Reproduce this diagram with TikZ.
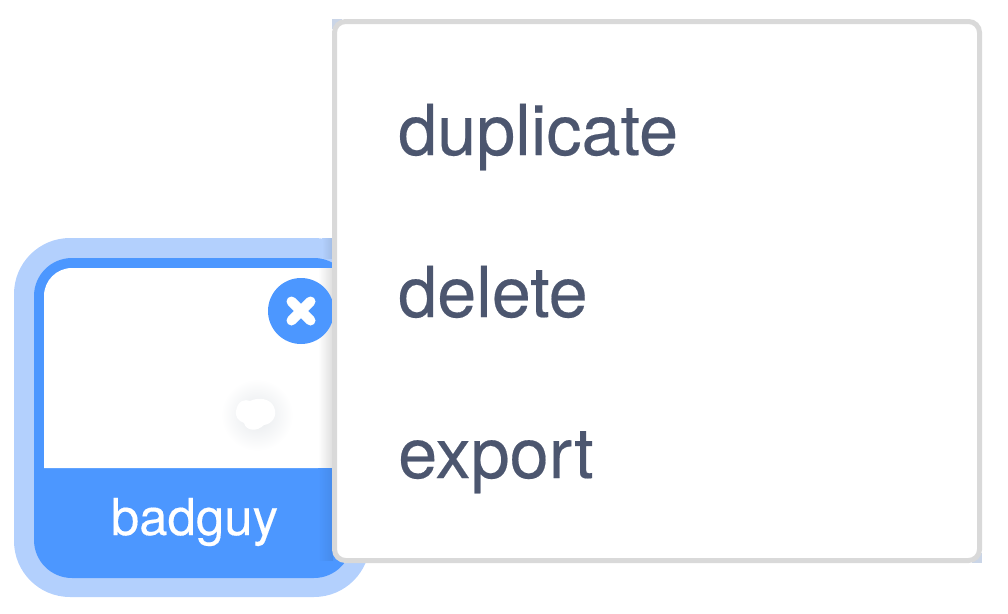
\documentclass[tikz,border=0pt]{standalone}
\usepackage{fontspec}
\setmainfont{TeX Gyre Heros}
\definecolor{sblue}{HTML}{4C97FF}
\definecolor{spale}{HTML}{B3D0FD}
\definecolor{sgray}{HTML}{D9D9D9}
\definecolor{stext}{HTML}{4C566F}
\definecolor{sblob}{HTML}{E6E9EC}
\usetikzlibrary{calc}
\tikzset{
  menuitem/.style={anchor=base west,inner sep=0pt,text=stext,font=\fontsize{70.2}{80}\selectfont\addfontfeature{FakeBold=0.25}},
  tilelabel/.style={anchor=base,inner sep=0pt,text=white,font=\fontsize{51}{60}\selectfont\addfontfeature{FakeBold=0.25}},
}
\begin{document}
\begin{tikzpicture}[x=1pt,y=-1pt]
\useasboundingbox (0,0) rectangle (1008,613);
% outer halo and tile
\fill[spale,rounded corners=56pt] (14,238) rectangle (370,597);
\fill[sblue,rounded corners=38pt] (34,258) rectangle (352,578);
\fill[white] (44,468) -- (44,296) arc[start angle=180,end angle=270,radius=28] -- (342,268) -- (342,468) -- cycle;
% soft shadow cast by the menu
\shade[left color=white,right color=black!13] (318,268) rectangle (333,468);
\shade[left color=sblue,right color=black!8!sblue] (318,468) rectangle (333,560);
\shade[left color=spale,right color=black!10!spale] (322,238) rectangle (333,258);
% sprite blob
\shade[inner color=sblob,outer color=white] (257,415) circle[radius=36];
\fill[white] (236,411) .. controls (238,400) and (245,399) .. (250,401)
  .. controls (258,397) and (270,398) .. (274,407)
  .. controls (278,416) and (272,424) .. (264,425)
  .. controls (257,432) and (246,431) .. (244,423)
  .. controls (238,421) and (235,416) .. (236,411) -- cycle;
% delete button
\node[circle,fill=sblue,minimum size=66pt,inner sep=0pt] (close) at (301,311) {};
\draw[white,line width=10pt,line cap=round] ($(close)+(-9.5,-9.5)$) -- ($(close)+(9.5,9.5)$);
\draw[white,line width=10pt,line cap=round] ($(close)+(-9.5,9.5)$) -- ($(close)+(9.5,-9.5)$);
% menu
\fill[spale!40!sgray] (332,19) rectangle (342,29);
\fill[spale!40!sgray] (972,553) rectangle (982,563);
\node[draw=sgray,line width=5pt,fill=white,rounded corners=11pt,inner sep=0pt,minimum width=645pt,minimum height=539pt] (menu) at (657,291) {};
\node[menuitem] (dup) at (398,155) {duplicate};
\node[menuitem] (del) at (398,317) {delete};
\node[menuitem] (exp) at (398,478) {export};
\node[tilelabel] (lab) at (194.5,535) {badguy};
\end{tikzpicture}
\end{document}
